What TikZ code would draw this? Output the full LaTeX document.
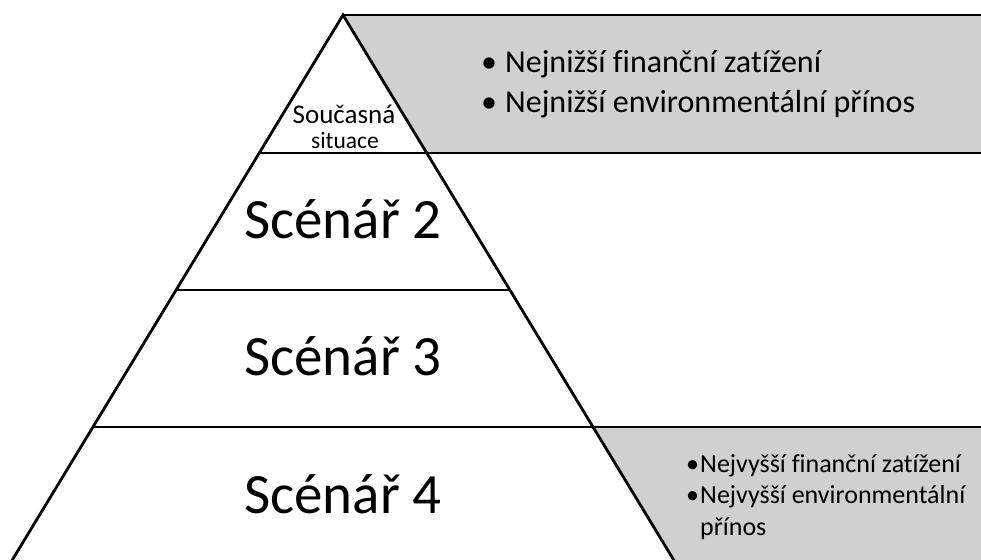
\documentclass[tikz,border=0pt]{standalone}
\usepackage{fontspec}
\setmainfont[Ligatures=NoCommon]{Carlito}
\definecolor{panelgray}{RGB}{208,208,208}
\tikzset{
  edge/.style={line width=2.8pt, line join=miter},
  panel/.style={fill=panelgray, draw=none},
  label/.style={inner sep=0pt, anchor=base},
  scen/.style={label, font=\fontsize{57}{57}\selectfont},
  toptext/.style={inner sep=0pt, anchor=base west, font=\fontsize{32}{32}\selectfont},
  bottext/.style={inner sep=0pt, anchor=base west, font=\fontsize{26}{26}\selectfont},
}
\begin{document}
\begin{tikzpicture}[x=1pt,y=-1pt]
\useasboundingbox (0,0) rectangle (981,559);

% pyramid geometry (slope 0.607 horizontal per unit of height)
\coordinate (apex) at (343,15);
\coordinate (l1) at (259.2,153);  \coordinate (r1) at (426.8,153);
\coordinate (l2) at (176.1,290);  \coordinate (r2) at (509.9,290);
\coordinate (l3) at (92.9,427);   \coordinate (r3) at (593.1,427);
\coordinate (lb) at (8.0,567);    \coordinate (rb) at (678.0,567);
\coordinate (tr) at (981,15);
\coordinate (m1) at (981,153);
\coordinate (m3) at (981,427);
\coordinate (br) at (981,567);

% grey panels beside the top and bottom tiers
\path[panel] (apex) -- (tr) -- (m1) -- (r1) -- cycle;
\path[panel] (r3) -- (m3) -- (br) -- (rb) -- cycle;

% outlines
\draw[edge] (apex) -- (tr);
\draw[edge] (lb) -- (apex) -- (rb);
\draw[edge] (l1) -- (m1);
\draw[edge] (l2) -- (r2);
\draw[edge] (l3) -- (m3);

% tier labels
\node[label, font=\fontsize{27}{27}\selectfont] (cur1) at (344,123) {Současná};
\node[label, font=\fontsize{23.5}{23.5}\selectfont] (cur2) at (345,148) {situace};
\node[scen] (s2) at (343,238) {Scénář 2};
\node[scen] (s3) at (343,375) {Scénář 3};
\node[scen] (s4) at (343,513) {Scénář 4};

% notes in the top panel
\node[toptext] (tb1) at (481,73) {•};
\node[toptext] (tt1) at (505,73) {Nejnižší finanční zatížení};
\node[toptext] (tb2) at (481,112) {•};
\node[toptext] (tt2) at (505,112) {Nejnižší environmentální přínos};

% notes in the bottom panel
\node[bottext] (bb1) at (686,472) {•};
\node[bottext] (bt1) at (700,472) {Nejvyšší finanční zatížení};
\node[bottext] (bb2) at (686,503) {•};
\node[bottext] (bt2) at (700,503) {Nejvyšší environmentální};
\node[bottext] (bt3) at (700,535) {přínos};
\end{tikzpicture}
\end{document}
